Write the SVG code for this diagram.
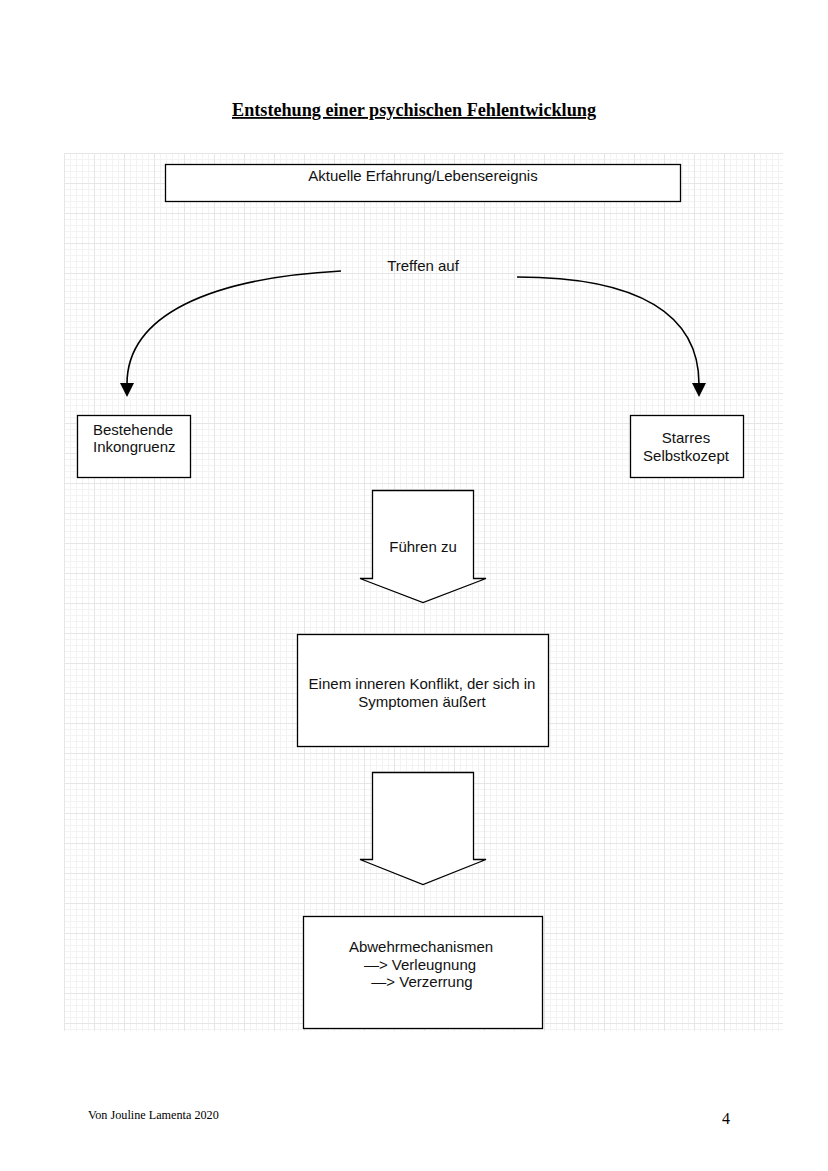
<svg xmlns="http://www.w3.org/2000/svg" width="828" height="1171" viewBox="0 0 828 1171">
<defs>
<pattern id="minor" x="64" y="153" width="6" height="6" patternUnits="userSpaceOnUse">
<path d="M0,0.5H6M0.5,0V6" stroke="#f3f3f3" stroke-width="1" fill="none"/>
</pattern>
<pattern id="major" x="64" y="153" width="30" height="30" patternUnits="userSpaceOnUse">
<path d="M0,0.5H30M0.5,0V30" stroke="#e6e6e6" stroke-width="1" fill="none"/>
</pattern>
<style>
.box{fill:#fff;stroke:#000;stroke-width:1.3}
.t{font-family:"Liberation Sans",Arial,sans-serif;font-size:15px;fill:#111}
.c{text-anchor:middle}
.conn{fill:none;stroke:#000;stroke-width:1.6}
.head{fill:#000}
</style>
</defs>
<rect width="828" height="1171" fill="#fff"/>
<g id="grid">
<rect x="64" y="153" width="719" height="878" fill="url(#minor)"/>
<rect x="64" y="153" width="719" height="878" fill="url(#major)"/>
</g>
<text x="414" y="116" text-anchor="middle" font-family="'Liberation Serif','Times New Roman',serif" font-weight="bold" font-size="18.2" text-decoration="underline" fill="#000">Entstehung einer psychischen Fehlentwicklung</text>

<g id="connectors">
<path class="conn" d="M341,271 C210,278 127,315 127,384"/>
<path class="head" d="M120,383 L134,383 L127,397 Z"/>
<path class="conn" d="M517,277 C640,277 699,315 699,384"/>
<path class="head" d="M692,383 L706,383 L699,397 Z"/>
</g>

<g id="n-erfahrung">
<rect class="box" x="165.5" y="164.5" width="515" height="37"/>
<text class="t c" x="423" y="181">Aktuelle Erfahrung/Lebensereignis</text>
</g>
<g id="n-treffen">
<text class="t c" x="423" y="271">Treffen auf</text>
</g>
<g id="n-inkongruenz">
<rect class="box" x="77.5" y="415.5" width="113" height="62"/>
<text class="t" x="93" y="435">Bestehende</text>
<text class="t" x="93" y="452">Inkongruenz</text>
</g>
<g id="n-selbstkonzept">
<rect class="box" x="630.5" y="415.5" width="113" height="62"/>
<text class="t c" x="686" y="443">Starres</text>
<text class="t c" x="686" y="461">Selbstkozept</text>
</g>
<g id="n-fuehren">
<path class="box" d="M372.5,490.5 H473.5 V578.5 H486 L423,602.5 L360,578.5 H372.5 Z"/>
<text class="t c" x="423" y="552">Führen zu</text>
</g>
<g id="n-konflikt">
<rect class="box" x="297.5" y="634.5" width="251" height="112"/>
<text class="t c" x="422" y="689">Einem inneren Konflikt, der sich in</text>
<text class="t c" x="422" y="707">Symptomen äußert</text>
</g>
<g id="n-arrow2">
<path class="box" d="M372.5,772.5 H473.5 V859.5 H486 L423,884.5 L360,859.5 H372.5 Z"/>
</g>
<g id="n-abwehr">
<rect class="box" x="303.5" y="916.5" width="239" height="112"/>
<text class="t c" x="421" y="952">Abwehrmechanismen</text>
<text class="t c" x="420" y="970">—&gt; Verleugnung</text>
<text class="t c" x="422" y="987">—&gt; Verzerrung</text>
</g>

<text x="88" y="1119" font-family="'Liberation Serif','Times New Roman',serif" font-size="12.2" fill="#000">Von Jouline Lamenta 2020</text>
<text x="722" y="1124" font-family="'Liberation Serif','Times New Roman',serif" font-size="16" fill="#000">4</text>
</svg>
